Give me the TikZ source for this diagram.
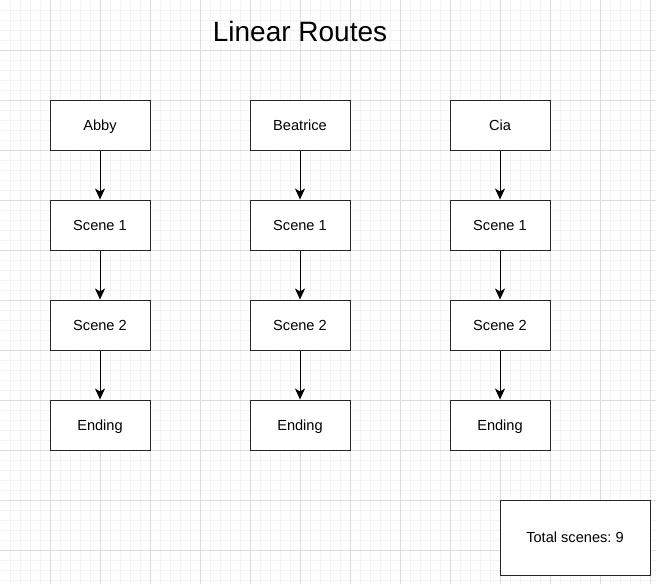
\documentclass[tikz,border=0pt]{standalone}
\usepackage{fontspec}
\setmainfont{Liberation Sans}
\usetikzlibrary{arrows.meta}
\definecolor{gridminor}{HTML}{F3F3F3}
\definecolor{gridmajor}{HTML}{DDDDDD}
\frenchspacing
\begin{document}
\begin{tikzpicture}[x=1pt,y=-1pt,
  box/.style={draw=black!85, line width=1pt, fill=white, minimum width=100pt, minimum height=50pt, inner sep=0pt, text height=12pt, text depth=2pt, font=\fontsize{14.6}{17}\selectfont},
  totalbox/.style={draw=black!85, line width=1pt, fill=white, minimum width=150pt, minimum height=75pt, inner sep=0pt, text height=12pt, text depth=2pt, font=\fontsize{14.6}{17}\selectfont},
  flow/.style={draw=black, line width=1pt, -{Stealth[length=11pt,width=10pt,inset=3pt]}}]
\useasboundingbox (0,0) rectangle (656,584);
\fill[white] (0,0) rectangle (656,584);
\foreach \x in {10,20,...,650} \draw[gridminor, line width=0.8pt] (\x,0) -- (\x,584);
\foreach \y in {10,20,...,580} \draw[gridminor, line width=0.8pt] (0,\y) -- (656,\y);
\foreach \x in {50,100,...,650} \draw[gridmajor, line width=0.8pt] (\x,0) -- (\x,584);
\foreach \y in {50,100,...,550} \draw[gridmajor, line width=0.8pt] (0,\y) -- (656,\y);
\node[anchor=base, font=\fontsize{28}{34}\selectfont, inner sep=0pt] (title) at (300,41) {Linear Routes};
\node[box] (a0) at (100,125) {Abby};
\node[box] (a1) at (100,225) {Scene 1};
\node[box] (a2) at (100,325) {Scene 2};
\node[box] (a3) at (100,425) {Ending};
\node[box] (b0) at (300,125) {Beatrice};
\node[box] (b1) at (300,225) {Scene 1};
\node[box] (b2) at (300,325) {Scene 2};
\node[box] (b3) at (300,425) {Ending};
\node[box] (c0) at (500,125) {Cia};
\node[box] (c1) at (500,225) {Scene 1};
\node[box] (c2) at (500,325) {Scene 2};
\node[box] (c3) at (500,425) {Ending};
\node[totalbox] (total) at (575,537.5) {Total scenes: 9};
\foreach \c in {a,b,c}{
  \draw[flow] (\c0.south) -- (\c1.north);
  \draw[flow] (\c1.south) -- (\c2.north);
  \draw[flow] (\c2.south) -- (\c3.north);
}
\end{tikzpicture}
\end{document}
